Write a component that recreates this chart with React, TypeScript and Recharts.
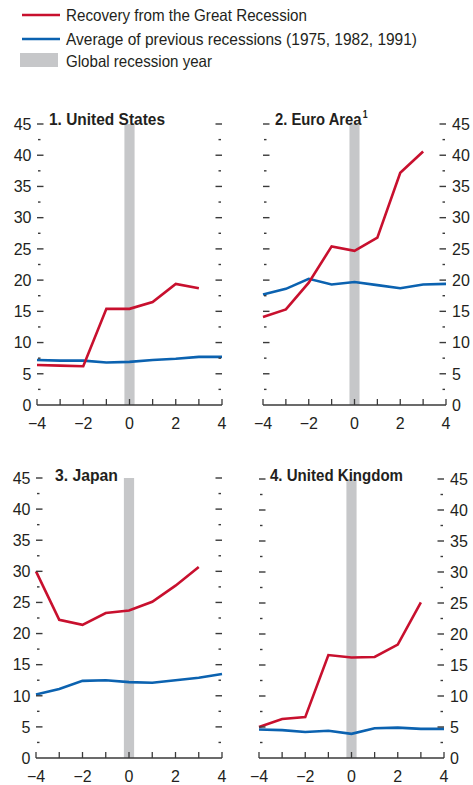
import React from 'react';
import { LineChart, Line, XAxis, YAxis, ReferenceArea } from 'recharts';

const FONT = '"Liberation Sans", Arial, Helvetica, sans-serif';
const TEXT = '#231f20';
const AXIS = '#3a3a3a';
const RED = '#c8102e';
const BLUE = '#0b62b0';
const GREY = '#c6c7c9';

const years = [-4, -3, -2, -1, 0, 1, 2, 3, 4];
const yTicks = [0, 2.5, 5, 7.5, 10, 12.5, 15, 17.5, 20, 22.5, 25, 27.5, 30, 32.5, 35, 37.5, 40, 42.5, 45];

const usRecovery = [6.4, 6.3, 6.2, 15.4, 15.4, 16.5, 19.4, 18.7, null];
const usAverage = [7.2, 7.1, 7.1, 6.8, 6.9, 7.2, 7.4, 7.7, 7.7];
const euRecovery = [14.1, 15.3, 19.6, 25.4, 24.7, 26.8, 37.2, 40.6, null];
const euAverage = [17.7, 18.6, 20.2, 19.3, 19.7, 19.2, 18.7, 19.3, 19.4];
const jpRecovery = [30.0, 22.2, 21.4, 23.3, 23.7, 25.1, 27.7, 30.7, null];
const jpAverage = [10.2, 11.1, 12.4, 12.5, 12.2, 12.1, 12.5, 12.9, 13.5];
const ukRecovery = [5.0, 6.3, 6.6, 16.6, 16.2, 16.3, 18.3, 25.1, null];
const ukAverage = [4.6, 4.5, 4.2, 4.4, 3.9, 4.8, 4.9, 4.7, 4.7];

const recessionYear = [-0.22, 0.22];

const build = (rec: (number | null)[], avg: number[]) =>
  years.map((y, i) => ({ year: y, rec: rec[i], avg: avg[i] }));

const XTick = (props: any) => {
  const { x, y, payload } = props;
  const v = payload.value as number;
  return (
    <g>
      <line x1={x} x2={x} y1={y} y2={y - 6} stroke={AXIS} strokeWidth={1.3} />
      {v % 2 === 0 && (
        <text x={x} y={y + 24} textAnchor="middle" fontSize={16} fill={TEXT} fontFamily={FONT}>
          {v < 0 ? '\u2212' + Math.abs(v) : String(v)}
        </text>
      )}
    </g>
  );
};

const makeYTick = (plotWidth: number, labelSide: 'left' | 'right') => (props: any) => {
  const { x, y, payload } = props;
  const v = payload.value as number;
  const major = v % 5 === 0;
  const off = major ? 0 : 1;
  const len = major ? 6.5 : 2.5;
  const xr = x + plotWidth;
  return (
    <g>
      {v > 0 && (
        <>
          <line x1={x + off} x2={x + off + len} y1={y} y2={y} stroke={AXIS} strokeWidth={1.4} />
          <line x1={xr - off} x2={xr - off - len} y1={y} y2={y} stroke={AXIS} strokeWidth={1.4} />
        </>
      )}
      {major && (
        <text
          x={labelSide === 'left' ? x - 5.5 : xr + 6}
          y={y}
          dy="0.36em"
          textAnchor={labelSide === 'left' ? 'end' : 'start'}
          fontSize={16}
          fill={TEXT}
          fontFamily={FONT}
        >
          {String(v)}
        </text>
      )}
    </g>
  );
};

type PanelProps = {
  left: number;
  top: number;
  width: number;
  height: number;
  marginTop: number;
  lw: number;
  rw: number;
  labelSide: 'left' | 'right';
  data: any[];
};

const XH = 32;

const Panel = ({ left, top, width, height, marginTop, lw, rw, labelSide, data }: PanelProps) => {
  const plotWidth = width - lw - rw;
  return (
    <div style={{ position: 'absolute', left, top, width, height }}>
      <LineChart width={width} height={height} data={data} margin={{ top: marginTop, right: rw, bottom: 0, left: 0 }}>
        <XAxis
          dataKey="year"
          type="number"
          domain={[-4, 4]}
          ticks={years}
          interval={0}
          tickSize={0}
          tickMargin={0}
          tickLine={false}
          axisLine={{ stroke: AXIS, strokeWidth: 1.5 }}
          tick={(p: any) => <XTick {...p} />}
          height={XH}
        />
        <YAxis
          orientation="left"
          width={lw}
          domain={[0, 45]}
          ticks={yTicks}
          interval={0}
          tickSize={0}
          tickMargin={0}
          tickLine={false}
          axisLine={false}
          tick={makeYTick(plotWidth, labelSide)}
        />
        <ReferenceArea
          x1={recessionYear[0]}
          x2={recessionYear[1]}
          y1={0}
          y2={45}
          fill={GREY}
          fillOpacity={1}
          stroke="none"
        />
        <Line type="linear" dataKey="avg" stroke={BLUE} strokeWidth={2.6} dot={false} isAnimationActive={false} />
        <Line type="linear" dataKey="rec" stroke={RED} strokeWidth={2.6} dot={false} isAnimationActive={false} />
      </LineChart>
    </div>
  );
};

const TitleText = ({ x, y, len, children }: any) => (
  <text x={x} y={y} fontSize={17} fontWeight="bold" fill={TEXT} fontFamily={FONT} textLength={len} lengthAdjust="spacingAndGlyphs">
    {children}
  </text>
);

const LegendText = ({ x, y, len, children }: any) => (
  <text x={x} y={y} fontSize={16.5} fill={TEXT} fontFamily={FONT} textLength={len} lengthAdjust="spacingAndGlyphs">
    {children}
  </text>
);

export default function App() {
  return (
    <div style={{ position: 'absolute', left: 0, top: 0, width: 473, height: 785, background: '#fff', overflow: 'hidden' }}>
      <Panel left={0} top={100} width={232} height={281 + 24 + XH} marginTop={24} lw={37} rw={10} labelSide="left" data={build(usRecovery, usAverage)} />
      <Panel left={233} top={100} width={240} height={281 + 24 + XH} marginTop={24} lw={30} rw={27} labelSide="right" data={build(euRecovery, euAverage)} />
      <Panel left={0} top={455} width={232} height={280 + 23 + XH} marginTop={23} lw={36} rw={10} labelSide="left" data={build(jpRecovery, jpAverage)} />
      <Panel left={229} top={455} width={244} height={279 + 24 + XH} marginTop={24} lw={30} rw={29} labelSide="right" data={build(ukRecovery, ukAverage)} />
      <svg width={473} height={785} style={{ position: 'absolute', left: 0, top: 0, pointerEvents: 'none' }}>
        <line x1={22} x2={60} y1={15} y2={15} stroke={RED} strokeWidth={2.5} />
        <LegendText x={66} y={21} len={241}>Recovery from the Great Recession</LegendText>
        <line x1={22} x2={60} y1={39} y2={39} stroke={BLUE} strokeWidth={2.5} />
        <LegendText x={66} y={45} len={351}>Average of previous recessions (1975, 1982, 1991)</LegendText>
        <rect x={20} y={53} width={38} height={14} fill={GREY} />
        <LegendText x={66} y={67} len={146}>Global recession year</LegendText>

        <TitleText x={49} y={125} len={116}>1. United States</TitleText>
        <g transform="translate(275,125) scale(0.87,1)">
          <text x={0} y={0} fontSize={17} fontWeight="bold" fill={TEXT} fontFamily={FONT}>
            2. Euro Area<tspan dx={1.5} dy={-7} fontSize={10}>1</tspan>
          </text>
        </g>
        <TitleText x={55} y={481} len={63}>3. Japan</TitleText>
        <TitleText x={270} y={481} len={133}>4. United Kingdom</TitleText>
      </svg>
    </div>
  );
}
